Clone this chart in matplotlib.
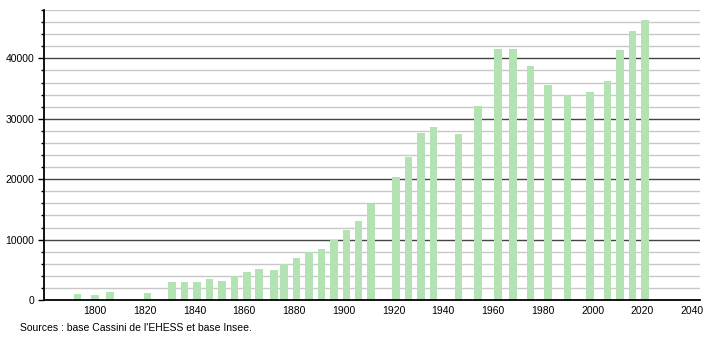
import numpy as np
import matplotlib
matplotlib.use('Agg')
import matplotlib.pyplot as plt
from matplotlib.ticker import MultipleLocator

years = [1793, 1800, 1806, 1821, 1831, 1836, 1841, 1846, 1851, 1856, 1861, 1866,
         1872, 1876, 1881, 1886, 1891, 1896, 1901, 1906, 1911, 1921, 1926, 1931,
         1936, 1946, 1954, 1962, 1968, 1975, 1982, 1990, 1999, 2006, 2011, 2016, 2021]
population = [1000, 780, 1330, 1170, 3000, 3000, 3000, 3500, 3220, 3940, 4670, 5170,
              5000, 5940, 7000, 7940, 8500, 9950, 11670, 13000, 15950, 20330, 23650, 27650,
              28650, 27500, 32100, 41600, 41600, 38700, 35600, 34000, 34400, 36300, 41450, 44600, 46270]
xticks = [1800, 1820, 1840, 1860, 1880, 1900, 1920, 1940, 1960, 1980, 2000, 2020, 2040]
yticks = [0, 10000, 20000, 30000, 40000]
source = "Sources : base Cassini de l'EHESS et base Insee."

plt.rcParams['font.family'] = ['Liberation Sans', 'DejaVu Sans']

fig = plt.figure(figsize=(7.1, 3.4), dpi=100)
ax = fig.add_axes([0.062, 0.1176, 0.924, 0.853])

# grid lines: light every 2000, dark every 10000
for v in np.arange(2000, 48001, 2000):
    if v % 10000 == 0:
        ax.axhline(v, color='#444444', lw=1.0, zorder=1)
    else:
        ax.axhline(v, color='#c8c8c8', lw=1.0, zorder=1)

ax.bar(years, population, width=3.0, color='#b3e3b3', zorder=2)

ax.set_xlim(1779.5, 2043.2)
ax.set_ylim(0, 48000)
ax.set_xticks(xticks)
ax.set_yticks(yticks)
ax.yaxis.set_minor_locator(MultipleLocator(2000))
ax.tick_params(axis='x', length=0, labelsize=7.5, pad=4)
ax.tick_params(axis='y', which='major', length=4, width=1, labelsize=7.5, pad=3)
ax.tick_params(axis='y', which='minor', length=2, width=1)

for s in ['top', 'right']:
    ax.spines[s].set_visible(False)
ax.spines['left'].set_linewidth(1.3)
ax.spines['bottom'].set_linewidth(1.3)
ax.spines['left'].set_zorder(3)
ax.spines['bottom'].set_zorder(3)

fig.text(20 / 710, 1 - 328 / 340, source, fontsize=7.5, va='center', ha='left')

plt.savefig('out.png', dpi=100)
plt.close()
